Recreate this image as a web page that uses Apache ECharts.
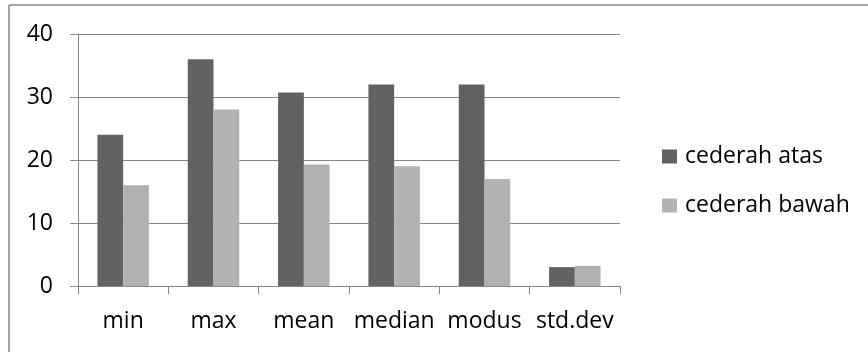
<!DOCTYPE html>
<html>
<head>
<meta charset="utf-8">
<script src="https://cdn.jsdelivr.net/npm/echarts@6/dist/echarts.min.js"></script>
<style>html,body{margin:0;padding:0;background:#fff}#c{width:868px;height:352px}</style>
</head>
<body>
<div id="c"></div>
<script>
const categories = ['min', 'max', 'mean', 'median', 'modus', 'std.dev'];
const seriesNames = ['cederah atas', 'cederah bawah'];
const atasValues = [24, 36, 30.7, 32, 32, 3];
const bawahValues = [16, 28, 19.3, 19, 17, 3.2];
const yTicks = [0, 10, 20, 30, 40];

const FONT = 'Open Sans';
const FS = 23;
const chart = echarts.init(document.getElementById('c'), null, {renderer: 'canvas'});
chart.setOption({
  animation: false,
  backgroundColor: '#fff',
  graphic: [
    {type: 'line', shape: {x1: 9, y1: 5, x2: 868, y2: 5}, style: {stroke: '#868686', lineWidth: 1.5}},
    {type: 'line', shape: {x1: 9, y1: 5, x2: 9, y2: 352}, style: {stroke: '#868686', lineWidth: 1.5}}
  ],
  grid: {left: 78, right: 248, top: 34, bottom: 66, containLabel: false},
  legend: {
    orient: 'vertical', left: 662, top: 145, padding: 0,
    icon: 'rect', itemWidth: 15, itemHeight: 14, itemGap: 26,
    textStyle: {fontFamily: FONT, fontSize: FS, color: '#000', padding: [0, 0, 0, 3]},
    data: seriesNames
  },
  xAxis: {
    type: 'category', data: categories,
    axisLine: {lineStyle: {color: '#868686', width: 1}},
    axisTick: {show: true, length: 8, lineStyle: {color: '#868686'}},
    axisLabel: {fontFamily: FONT, fontSize: FS, color: '#000', margin: 24, interval: 0}
  },
  yAxis: {
    type: 'value', min: 0, max: 40, interval: 10,
    axisLine: {show: true, lineStyle: {color: '#868686', width: 1}},
    axisTick: {show: true, length: 8, lineStyle: {color: '#868686'}},
    splitLine: {lineStyle: {color: '#868686', width: 1}},
    axisLabel: {fontFamily: FONT, fontSize: FS, color: '#000', margin: 25,
      formatter: v => yTicks.includes(v) ? String(v) : ''}
  },
  series: [
    {name: seriesNames[0], type: 'bar', data: atasValues, barGap: '0%', barCategoryGap: '43%',
     itemStyle: {color: '#626262'}},
    {name: seriesNames[1], type: 'bar', data: bawahValues, barGap: '0%', barCategoryGap: '43%',
     itemStyle: {color: '#b2b2b2'}}
  ]
});
</script>
</body>
</html>
